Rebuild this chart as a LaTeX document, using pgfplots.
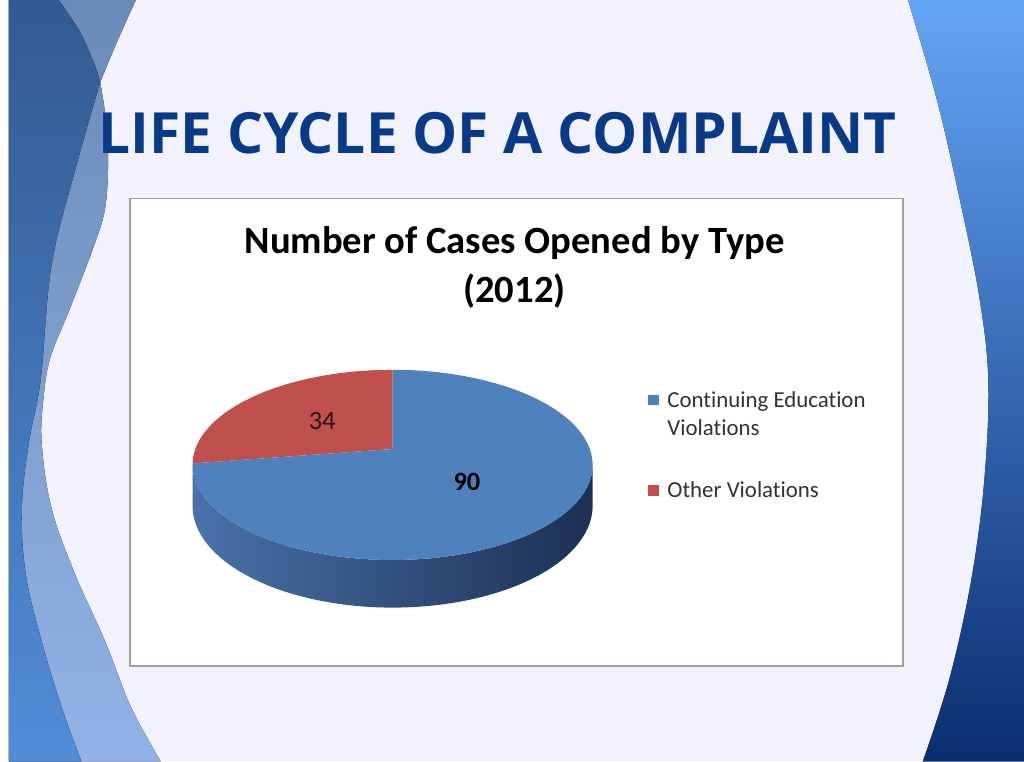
\documentclass[border=0pt]{standalone}
\usepackage{pgfplots}
\usepackage{pgfplotstable}
\pgfplotsset{compat=1.18}
\usepackage{fontspec}
\setmainfont{Carlito}[Ligatures=NoCommon]
\newfontfamily\headfont{Open Sans}

\definecolor{bgc}{RGB}{242,242,252}
\definecolor{titleblue}{RGB}{8,58,135}
\definecolor{pieblue}{RGB}{79,129,189}
\definecolor{piered}{RGB}{192,80,77}
\definecolor{sideL}{RGB}{74,114,170}
\definecolor{sideM}{RGB}{44,74,118}
\definecolor{sideR}{RGB}{28,48,82}
\definecolor{darkTop}{RGB}{50,91,146}
\definecolor{darkMid}{RGB}{52,95,155}
\definecolor{darkBot}{RGB}{82,140,215}
\definecolor{medTop}{RGB}{108,138,184}
\definecolor{medMid}{RGB}{112,145,195}
\definecolor{medBot}{RGB}{145,178,230}
\definecolor{rTop}{RGB}{100,165,245}
\definecolor{rMid}{RGB}{52,108,192}
\definecolor{rBot}{RGB}{10,45,112}
\definecolor{legtext}{RGB}{50,50,50}

% cases opened by type (2012)
\pgfplotstableread{
type value
Continuing 90
Other 34
}\casestable

\begin{document}
\pgfplotstablegetelem{0}{value}\of\casestable \let\vCE\pgfplotsretval
\pgfplotstablegetelem{1}{value}\of\casestable \let\vOV\pgfplotsretval
\pgfmathsetmacro\aOV{360*\vOV/(\vCE+\vOV)}
\pgfmathsetmacro\aCE{360-\aOV}
\pgfmathsetmacro\aEnd{90+\aOV}
\begin{tikzpicture}
\begin{axis}[
  width=768pt, height=576pt, scale only axis,
  xmin=0, xmax=1024, ymin=0, ymax=768, y dir=reverse,
  hide axis, clip=false,
  declare function={
    piex(\t)=387+199*cos(\t)/(1+sin(\t)/6);
    piey(\t)=(453-17.8*sin(\t))/(1+sin(\t)/6);
    pieyb(\t)=(493-17.8*sin(\t))/(1+sin(\t)/6);
  },
]
\coordinate (pageSW) at (0,768);
\coordinate (pageNE) at (1024,0);
% slide background
\fill[bgc] (0,0) rectangle (1024,768);
\begin{scope}
\clip (0,0) rectangle (1024,768);
% left waves
\fill[top color=medTop, middle color=medMid, bottom color=medBot]
  (0,0) -- (128,0) -- plot[smooth, tension=0.6] coordinates {(128,0) (110,40) (92,83)}
  -- plot[smooth, tension=0.6] coordinates {(92,83) (97,115) (100,160) (97,210) (85,250) (62,310) (42,360) (35,400) (33,447) (43,513) (67,580) (97,647) (123,713) (153,768)}
  -- (0,768) -- cycle;
\fill[top color=darkTop, middle color=darkMid, bottom color=darkBot]
  (0,0) -- plot[smooth, tension=0.6] coordinates {(50,0) (72,33) (87,67) (92,83)}
  -- plot[smooth, tension=0.6] coordinates {(92,83) (68,167) (43,267) (32,383) (20,447) (13,513) (17,580) (33,647) (53,713) (73,768)}
  -- (0,768) -- cycle;
% right wave
\fill[top color=rTop, middle color=rMid, bottom color=rBot]
  plot[smooth, tension=0.6] coordinates {(907,0) (936,100) (959,200) (979,300) (988,384) (984,484) (971,584) (949,684) (922,768)}
  -- (1024,768) -- (1024,0) -- cycle;
\end{scope}
% slide title
\node[anchor=base west, inner sep=0pt, text=titleblue,
  font=\headfont\bfseries\fontsize{43}{50}\selectfont] at (90,155) {LIFE CYCLE OF A COMPLAINT};
% chart area
\draw[draw={rgb,255:red,160;green,160;blue,160}, line width=1.1pt, fill=white] (122,200) rectangle (902,672);
\node[anchor=base, inner sep=0pt, font=\bfseries\fontsize{29.2}{32}\selectfont] at (510,256) {Number of Cases Opened by Type};
\node[anchor=base, inner sep=0pt, font=\bfseries\fontsize{29.2}{32}\selectfont] at (510,305) {(2012)};

% pie side (front, all continuing education)
\addplot[draw=none, left color=sideL, middle color=sideM, right color=sideR,
  domain=0:200, samples=201, variable=\s]
  ({\s<=100.5 ? piex(189.6+1.608*\s) : piex(350.4-1.608*(\s-100))},
   {\s<=100.5 ? piey(189.6+1.608*\s) : pieyb(350.4-1.608*(\s-100))});
% top faces
\addplot[fill=piered, draw=none, domain=0:101, samples=102, variable=\s]
  ({\s>100.5 ? 387 : piex(90+\aOV*\s/100)}, {\s>100.5 ? 453 : piey(90+\aOV*\s/100)});
\addplot[fill=pieblue, draw=none, domain=0:101, samples=102, variable=\s]
  ({\s>100.5 ? 387 : piex(\aEnd+\aCE*\s/100)}, {\s>100.5 ? 453 : piey(\aEnd+\aCE*\s/100)});

% data labels
\node[font=\fontsize{20}{22}\selectfont, text={rgb,255:red,40;green,20;blue,20}] at (316,425) {\vOV};
\node[font=\bfseries\fontsize{20}{22}\selectfont] at (462,486) {\vCE};

% legend
\fill[pieblue] (645,398) rectangle (656,409);
\node[anchor=base west, inner sep=0pt, text=legtext, font=\fontsize{17.3}{21}\selectfont] at (664,411) {Continuing Education};
\node[anchor=base west, inner sep=0pt, text=legtext, font=\fontsize{17.3}{21}\selectfont] at (664,439) {Violations};
\fill[piered] (645,489) rectangle (656,500);
\node[anchor=base west, inner sep=0pt, text=legtext, font=\fontsize{17.3}{21}\selectfont] at (664,502) {Other Violations};
\end{axis}
\pgfresetboundingbox
\useasboundingbox (pageSW) rectangle (pageNE);
\end{tikzpicture}
\end{document}
